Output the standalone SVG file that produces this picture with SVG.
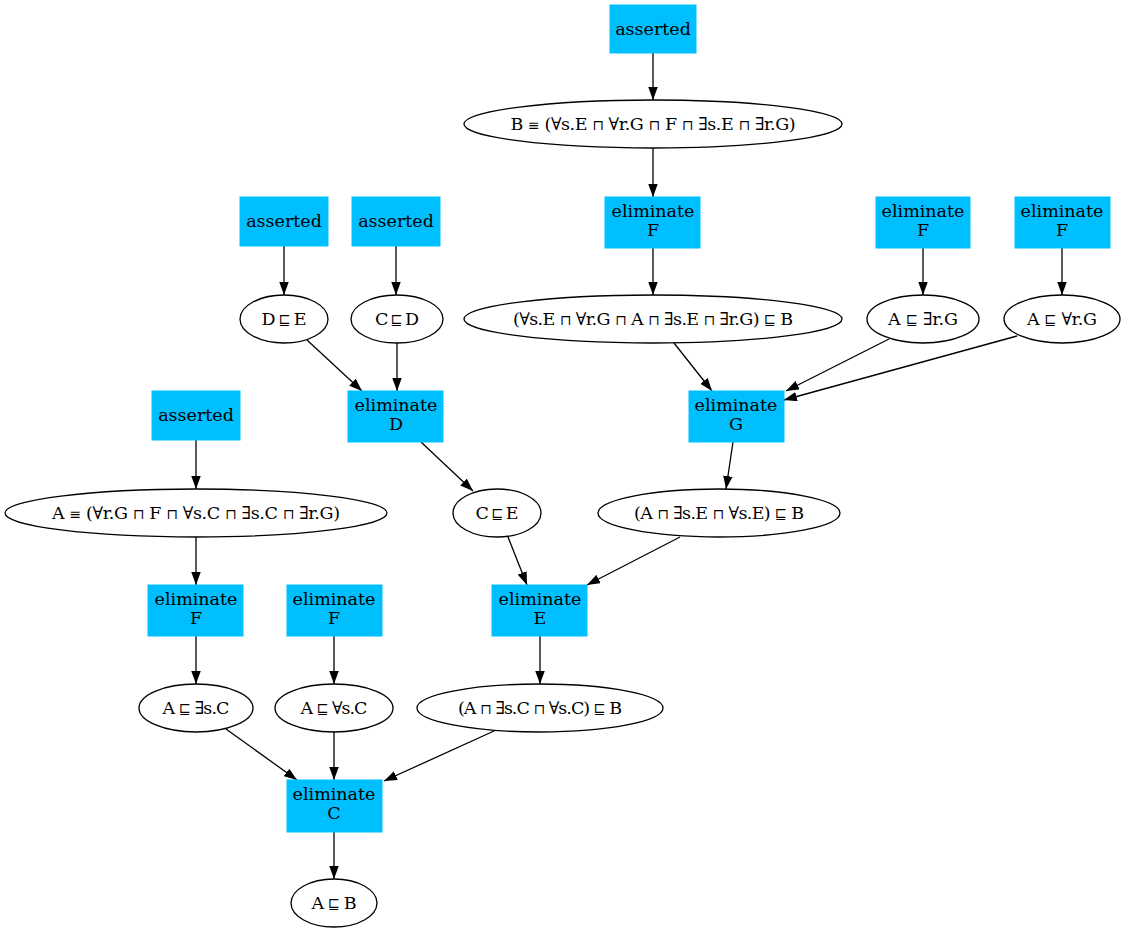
<svg xmlns="http://www.w3.org/2000/svg" width="1126" height="933" viewBox="0 0 1126 933">
  <style>
    text { font-family: "DejaVu Serif", "Liberation Serif", serif; font-size: 17.5px; fill: #000; text-anchor: middle; }
    .op { font-size: 14px; }
    .box { fill: #00bfff; stroke: #00bfff; stroke-width: 1; }
    .ell { fill: none; stroke: #000; stroke-width: 1.3; }
    .edge { stroke: #000; stroke-width: 1.3; fill: none; marker-end: url(#arrow); }
  </style>
  <defs>
    <marker id="arrow" viewBox="0 0 13 9.5" refX="13" refY="4.75" markerWidth="13" markerHeight="9.5" markerUnits="userSpaceOnUse" orient="auto">
      <path d="M0,0 L13,4.75 L0,9.5 Z" fill="#000"/>
    </marker>
  </defs>
  <rect width="1126" height="933" fill="#fff"/>

  <!-- connectors -->
  <g id="edges">
    <line class="edge" x1="653" y1="53" x2="653" y2="100"/>
    <line class="edge" x1="653" y1="148" x2="653" y2="197"/>
    <line class="edge" x1="653" y1="248" x2="653" y2="295"/>
    <line class="edge" x1="284" y1="246" x2="284" y2="295"/>
    <line class="edge" x1="396" y1="246" x2="396" y2="295"/>
    <line class="edge" x1="923" y1="248" x2="923" y2="295"/>
    <line class="edge" x1="1062" y1="248" x2="1062" y2="295"/>
    <line class="edge" x1="307" y1="340" x2="362" y2="391"/>
    <line class="edge" x1="397" y1="343" x2="397" y2="391"/>
    <line class="edge" x1="674" y1="343" x2="712" y2="391"/>
    <line class="edge" x1="889" y1="339" x2="786" y2="391"/>
    <line class="edge" x1="1017" y1="336" x2="784" y2="400"/>
    <line class="edge" x1="196" y1="440" x2="196" y2="489"/>
    <line class="edge" x1="421" y1="442" x2="473" y2="491"/>
    <line class="edge" x1="733" y1="442" x2="726" y2="489"/>
    <line class="edge" x1="196" y1="537" x2="196" y2="585"/>
    <line class="edge" x1="508" y1="537" x2="527" y2="585"/>
    <line class="edge" x1="680" y1="537" x2="587" y2="585"/>
    <line class="edge" x1="196" y1="636" x2="196" y2="684"/>
    <line class="edge" x1="334" y1="636" x2="334" y2="684"/>
    <line class="edge" x1="540" y1="636" x2="540" y2="684"/>
    <line class="edge" x1="226" y1="729" x2="297" y2="780"/>
    <line class="edge" x1="334" y1="732" x2="334" y2="780"/>
    <line class="edge" x1="494" y1="731" x2="384" y2="781"/>
    <line class="edge" x1="334" y1="832" x2="334" y2="879"/>
  </g>

  <!-- rule and axiom nodes -->
  <g id="n_asserted_B"><rect class="box" x="610" y="5" width="86" height="48"/><text x="653" y="35">asserted</text></g>
  <g id="n_B_def"><ellipse class="ell" cx="653" cy="124" rx="189" ry="24"/><text x="653" y="130" textLength="285" lengthAdjust="spacing">B  <tspan class="op">≡</tspan>  (∀s.E <tspan class="op">⊓</tspan> ∀r.G <tspan class="op">⊓</tspan> F <tspan class="op">⊓</tspan> ∃s.E <tspan class="op">⊓</tspan> ∃r.G)</text></g>
  <g id="n_elimF_B"><rect class="box" x="605" y="197" width="95" height="51"/><text x="653" y="217">eliminate</text><text x="653" y="236">F</text></g>

  <g id="n_asserted_DE"><rect class="box" x="240" y="197" width="88" height="49"/><text x="284" y="227">asserted</text></g>
  <g id="n_asserted_CD"><rect class="box" x="352" y="197" width="88" height="49"/><text x="396" y="227">asserted</text></g>
  <g id="n_elimF_r1"><rect class="box" x="876" y="197" width="94" height="51"/><text x="923" y="217">eliminate</text><text x="923" y="236">F</text></g>
  <g id="n_elimF_r2"><rect class="box" x="1015" y="197" width="95" height="51"/><text x="1062" y="217">eliminate</text><text x="1062" y="236">F</text></g>

  <g id="n_DE"><ellipse class="ell" cx="284" cy="319" rx="44" ry="24"/><text x="284" y="325" textLength="45" lengthAdjust="spacing">D <tspan class="op">⊑</tspan> E</text></g>
  <g id="n_CD"><ellipse class="ell" cx="397" cy="319" rx="46" ry="24"/><text x="397" y="325" textLength="44" lengthAdjust="spacing">C <tspan class="op">⊑</tspan> D</text></g>
  <g id="n_B_sub"><ellipse class="ell" cx="653" cy="319" rx="189" ry="24"/><text x="653" y="325" textLength="280" lengthAdjust="spacing">(∀s.E <tspan class="op">⊓</tspan> ∀r.G <tspan class="op">⊓</tspan> A <tspan class="op">⊓</tspan> ∃s.E <tspan class="op">⊓</tspan> ∃r.G) <tspan class="op">⊑</tspan> B</text></g>
  <g id="n_A_exr"><ellipse class="ell" cx="923" cy="319" rx="56" ry="24"/><text x="923" y="325" textLength="70" lengthAdjust="spacing">A <tspan class="op">⊑</tspan> ∃r.G</text></g>
  <g id="n_A_allr"><ellipse class="ell" cx="1062" cy="319" rx="58" ry="24"/><text x="1062" y="325" textLength="70" lengthAdjust="spacing">A <tspan class="op">⊑</tspan> ∀r.G</text></g>

  <g id="n_asserted_A"><rect class="box" x="152" y="391" width="88" height="49"/><text x="196" y="421">asserted</text></g>
  <g id="n_elimD"><rect class="box" x="348" y="391" width="95" height="51"/><text x="396" y="411">eliminate</text><text x="396" y="430">D</text></g>
  <g id="n_elimG"><rect class="box" x="689" y="391" width="95" height="51"/><text x="736" y="411">eliminate</text><text x="736" y="430">G</text></g>

  <g id="n_A_def"><ellipse class="ell" cx="196" cy="513" rx="191" ry="24"/><text x="196" y="519" textLength="288" lengthAdjust="spacing">A  <tspan class="op">≡</tspan>  (∀r.G <tspan class="op">⊓</tspan> F <tspan class="op">⊓</tspan> ∀s.C <tspan class="op">⊓</tspan> ∃s.C <tspan class="op">⊓</tspan> ∃r.G)</text></g>
  <g id="n_CE"><ellipse class="ell" cx="497" cy="513" rx="44" ry="24"/><text x="497" y="519" textLength="43" lengthAdjust="spacing">C <tspan class="op">⊑</tspan> E</text></g>
  <g id="n_B_sE"><ellipse class="ell" cx="719" cy="513" rx="121" ry="24"/><text x="719" y="519" textLength="170" lengthAdjust="spacing">(A <tspan class="op">⊓</tspan> ∃s.E <tspan class="op">⊓</tspan> ∀s.E) <tspan class="op">⊑</tspan> B</text></g>

  <g id="n_elimF_A1"><rect class="box" x="148" y="585" width="95" height="51"/><text x="196" y="605">eliminate</text><text x="196" y="624">F</text></g>
  <g id="n_elimF_A2"><rect class="box" x="287" y="585" width="95" height="51"/><text x="334" y="605">eliminate</text><text x="334" y="624">F</text></g>
  <g id="n_elimE"><rect class="box" x="492" y="585" width="95" height="51"/><text x="540" y="605">eliminate</text><text x="540" y="624">E</text></g>

  <g id="n_A_exs"><ellipse class="ell" cx="196" cy="708" rx="57" ry="24"/><text x="196" y="714" textLength="67" lengthAdjust="spacing">A <tspan class="op">⊑</tspan> ∃s.C</text></g>
  <g id="n_A_alls"><ellipse class="ell" cx="334" cy="708" rx="59" ry="24"/><text x="334" y="714" textLength="67" lengthAdjust="spacing">A <tspan class="op">⊑</tspan> ∀s.C</text></g>
  <g id="n_B_sC"><ellipse class="ell" cx="540" cy="708" rx="123" ry="24"/><text x="540" y="714" textLength="164" lengthAdjust="spacing">(A <tspan class="op">⊓</tspan> ∃s.C <tspan class="op">⊓</tspan> ∀s.C) <tspan class="op">⊑</tspan> B</text></g>

  <g id="n_elimC"><rect class="box" x="287" y="780" width="95" height="52"/><text x="334" y="800">eliminate</text><text x="334" y="819">C</text></g>
  <g id="n_AB"><ellipse class="ell" cx="334" cy="903" rx="43" ry="24"/><text x="334" y="909" textLength="45" lengthAdjust="spacing">A <tspan class="op">⊑</tspan> B</text></g>
</svg>
